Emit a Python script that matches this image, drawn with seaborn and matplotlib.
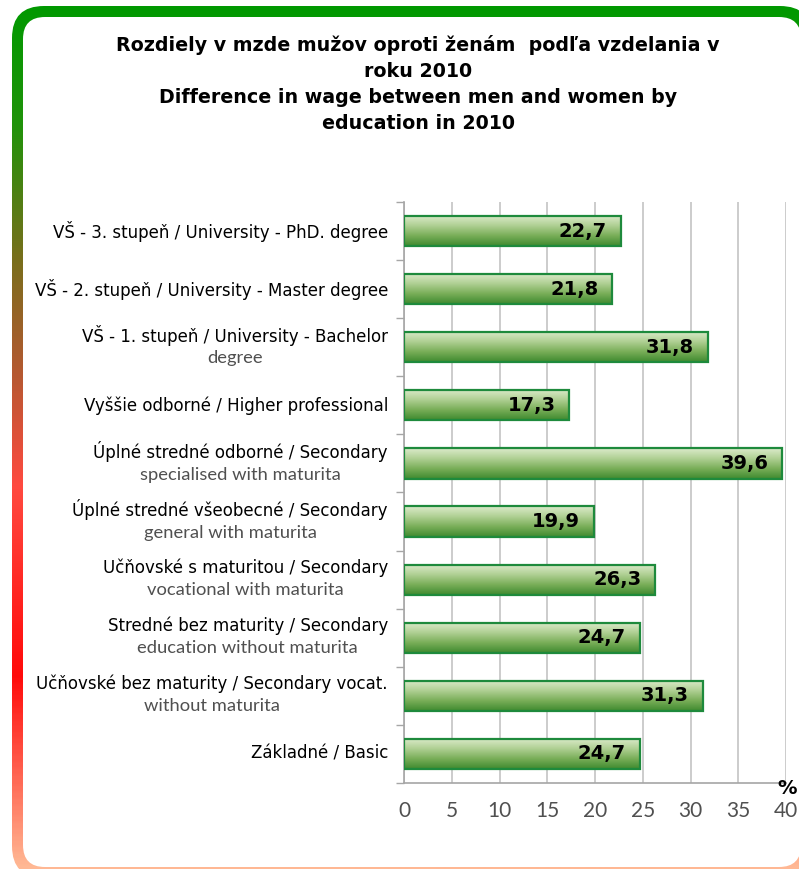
import numpy as np
import pandas as pd
import matplotlib
matplotlib.use('Agg')
import matplotlib.pyplot as plt
import matplotlib.transforms as mtransforms
from matplotlib.colors import LinearSegmentedColormap
from matplotlib.patches import FancyBboxPatch
import seaborn as sns

# Chart data
title = ("Rozdiely v mzde mužov oproti ženám  podľa vzdelania v\nroku 2010\n"
         "Difference in wage between men and women by\neducation in 2010")
categories = [
    "VŠ - 3. stupeň / University - PhD. degree",
    "VŠ - 2. stupeň / University - Master degree",
    "VŠ - 1. stupeň / University - Bachelor\ndegree",
    "Vyššie odborné / Higher professional",
    "Úplné stredné odborné / Secondary\nspecialised with maturita",
    "Úplné stredné všeobecné / Secondary\ngeneral with maturita",
    "Učňovské s maturitou / Secondary\nvocational with maturita",
    "Stredné bez maturity / Secondary\neducation without maturita",
    "Učňovské bez maturity / Secondary vocat.\nwithout maturita",
    "Základné / Basic",
]
values = [22.7, 21.8, 31.8, 17.3, 39.6, 19.9, 26.3, 24.7, 31.3, 24.7]
x_ticks = [0, 5, 10, 15, 20, 25, 30, 35, 40]
unit_label = "%"

df = pd.DataFrame({"category": categories, "value": values})

sns.set_theme(style="white")
plt.rcParams['font.family'] = ['DejaVu Sans']

W, H = 799, 869
fig = plt.figure(figsize=(W / 100, H / 100), dpi=100)

# Rounded frame with vertical gradient border
ax_bg = fig.add_axes([0, 0, 1, 1], zorder=0)
ax_bg.set_xlim(0, W)
ax_bg.set_ylim(H, 0)
ax_bg.axis('off')
frame_cmap = LinearSegmentedColormap.from_list("frame", [
    (0.00, '#009900'), (0.14, '#1f930a'), (0.30, '#7a6e1c'), (0.42, '#b05a30'),
    (0.56, '#ff4a40'), (0.78, '#ff0a0a'), (1.00, '#ffb894')])
outer = FancyBboxPatch((12, 6), 800, 872, boxstyle="round,pad=0,rounding_size=32",
                       transform=ax_bg.transData, facecolor='none', edgecolor='none')
ax_bg.add_patch(outer)
grad = np.linspace(0, 1, 400).reshape(-1, 1)
img = ax_bg.imshow(grad, extent=[0, W, H, 0], aspect='auto', cmap=frame_cmap, origin='upper')
img.set_clip_path(outer)
inner = FancyBboxPatch((23, 17), 778, 850, boxstyle="round,pad=0,rounding_size=22",
                       facecolor='white', edgecolor='none', zorder=3)
ax_bg.add_patch(inner)
ax_bg.set_xlim(0, W)
ax_bg.set_ylim(H, 0)

# Main bar chart
ax = fig.add_axes([404 / W, 1 - 783 / H, 382 / W, 581 / H], zorder=1)
ax.set_facecolor('none')
sns.barplot(data=df, x="value", y="category", orient='h', width=0.52, ax=ax,
            color='#8fbf6f', edgecolor='#1e8a3c', linewidth=1.6)

bar_cmap = LinearSegmentedColormap.from_list("bar", ['#dcebcb', '#b0d094', '#79ae58', '#3f8a30'])
bar_grad = np.linspace(0, 1, 100).reshape(-1, 1)
for p in ax.patches:
    x0, y0, w, h = p.get_x(), p.get_y(), p.get_width(), p.get_height()
    im = ax.imshow(bar_grad, extent=[x0, x0 + w, y0 + h, y0], aspect='auto',
                   cmap=bar_cmap, origin='upper', zorder=2)
    im.set_clip_path(p)
    p.set_facecolor('none')
    p.set_zorder(3)

n = len(categories)
ax.set_xlim(0, 40)
ax.set_ylim(n - 0.5, -0.5)
ax.set_xlabel('')
ax.set_ylabel('')

ax.set_xticks(x_ticks, labels=[str(t) for t in x_ticks], fontfamily='Lato',
              fontsize=15, color='#505050')
ax.tick_params(axis='x', direction='out', length=5, width=1, color='#a6a6a6', pad=8)
ax.set_yticks(range(n), labels=[''] * n)
ax.tick_params(axis='y', which='major', length=0)
ax.set_yticks(np.arange(-0.5, n, 1), minor=True)
ax.tick_params(axis='y', which='minor', left=True, direction='out', length=6, width=1, color='#a6a6a6')

ax.xaxis.grid(True, color='#c8c8c8', linewidth=1.3)
ax.set_axisbelow(True)
for side in ['top', 'right']:
    ax.spines[side].set_visible(False)
for side in ['left', 'bottom']:
    ax.spines[side].set_color('#a6a6a6')
    ax.spines[side].set_linewidth(1.2)

# Category labels (second line in lighter grey)
trans = mtransforms.blended_transform_factory(ax.transAxes, ax.transData)
for i, lab in enumerate(categories):
    lines = lab.split('\n')
    if len(lines) == 1:
        ax.text(-0.042, i, lines[0], transform=trans, ha='right', va='center',
                fontsize=12, color='black')
    else:
        t = ax.text(-0.042, i - 0.21, lines[0], transform=trans, ha='right', va='center',
                    fontsize=12, color='black')
        ax.annotate(lines[1], xy=(0.5, 0), xycoords=t, xytext=(0, -3.5),
                    textcoords='offset points', ha='center', va='top',
                    fontsize=13.2, fontfamily='Lato', color='#505050')

# Value labels
for i, v in enumerate(values):
    ax.annotate(f"{v:.1f}".replace('.', ','), xy=(v, i), xytext=(-10, 0),
                textcoords='offset points', ha='right', va='center',
                fontsize=14, fontweight='bold', color='black', zorder=4)

fig.text(787 / W, 1 - 789 / H, unit_label, ha='center', va='center',
         fontsize=14, fontweight='bold', color='black', zorder=5)

fig.text(418 / W, 1 - 84 / H, title, ha='center', va='center', fontsize=13.7,
         fontweight='bold', linespacing=1.45, color='black', zorder=5)

fig.savefig('out.png', dpi=100)
